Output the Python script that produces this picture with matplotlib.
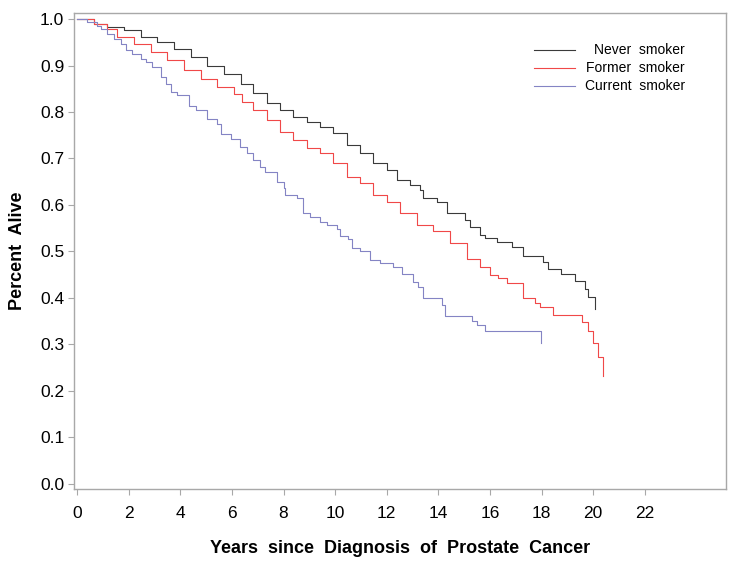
import numpy as np
import matplotlib
matplotlib.use('Agg')
import matplotlib.pyplot as plt

plt.rcParams['font.family'] = ['Liberation Sans', 'DejaVu Sans']

# Kaplan-Meier curves (years, survival)
never_t = [0, 0.66, 1.17, 1.82, 2.47, 3.11, 3.76, 4.41, 5.05, 5.70, 6.34, 6.83, 7.35,
           7.87, 8.38, 8.90, 9.42, 9.93, 10.45, 10.97, 11.48, 12.00, 12.39, 12.90,
           13.29, 13.42, 13.94, 14.33, 15.04, 15.23, 15.62, 15.81, 16.27, 16.85,
           17.28, 18.07, 18.27, 18.77, 19.28, 19.67, 19.80, 20.08]
never_s = [1.0, 0.990, 0.983, 0.976, 0.961, 0.950, 0.936, 0.918, 0.900, 0.882, 0.861,
           0.840, 0.819, 0.804, 0.790, 0.779, 0.768, 0.754, 0.729, 0.711, 0.690, 0.675,
           0.654, 0.643, 0.632, 0.614, 0.607, 0.582, 0.568, 0.553, 0.536, 0.528, 0.521,
           0.510, 0.490, 0.478, 0.462, 0.451, 0.437, 0.420, 0.402, 0.376]

former_t = [0, 0.66, 1.17, 1.56, 2.21, 2.86, 3.50, 4.15, 4.79, 5.44, 6.09, 6.41, 6.83,
            7.35, 7.87, 8.38, 8.90, 9.42, 9.93, 10.45, 10.97, 11.48, 12.00, 12.52,
            13.17, 13.81, 14.46, 15.10, 15.62, 16.00, 16.33, 16.65, 17.30, 17.75,
            17.95, 18.46, 19.58, 19.79, 19.99, 20.18, 20.38]
former_s = [1.0, 0.990, 0.979, 0.961, 0.947, 0.929, 0.911, 0.890, 0.872, 0.854, 0.839,
            0.821, 0.804, 0.783, 0.758, 0.740, 0.722, 0.711, 0.690, 0.661, 0.647, 0.622,
            0.607, 0.582, 0.557, 0.543, 0.518, 0.483, 0.466, 0.450, 0.442, 0.432, 0.399,
            0.389, 0.380, 0.363, 0.349, 0.329, 0.303, 0.274, 0.233]

current_t = [0, 0.40, 0.79, 0.92, 1.17, 1.43, 1.69, 1.89, 2.14, 2.47, 2.66, 2.92, 3.24,
             3.44, 3.63, 3.89, 4.34, 4.60, 5.05, 5.44, 5.57, 5.96, 6.32, 6.58, 6.83,
             7.09, 7.29, 7.74, 8.00, 8.06, 8.52, 8.77, 9.03, 9.42, 9.68, 10.07, 10.19,
             10.50, 10.65, 10.97, 11.36, 11.74, 12.26, 12.59, 13.03, 13.23, 13.40,
             14.14, 14.26, 15.30, 15.49, 15.81, 17.97]
current_s = [1.0, 0.994, 0.986, 0.979, 0.968, 0.958, 0.947, 0.933, 0.925, 0.915, 0.908,
             0.897, 0.875, 0.861, 0.843, 0.836, 0.814, 0.804, 0.786, 0.775, 0.753, 0.743,
             0.725, 0.711, 0.697, 0.682, 0.670, 0.650, 0.636, 0.622, 0.614, 0.582, 0.575,
             0.564, 0.557, 0.548, 0.533, 0.526, 0.507, 0.500, 0.482, 0.475, 0.467, 0.452,
             0.435, 0.423, 0.400, 0.385, 0.361, 0.351, 0.342, 0.329, 0.303]

labels = ['Never smoker', 'Former smoker', 'Current smoker']
colors = ['#3a3a3a', '#f04848', '#8484c4']
x_ticks = list(range(0, 23, 2))
y_ticks = [i / 10 for i in range(11)]

fig = plt.figure(figsize=(7.35, 5.66), dpi=100)
ax = fig.add_axes([74 / 735, 1 - 489 / 566, 652 / 735, 476 / 566])

series = [(never_t, never_s), (former_t, former_s), (current_t, current_s)]
for (t, s), c in zip(series, colors):
    ax.step(t, s, where='post', color=c, lw=0.8)

ax.set_xlim(-0.12, 25.15)
ax.set_ylim(-0.011, 1.013)
ax.set_xticks(x_ticks)
ax.set_yticks(y_ticks)
ax.set_yticklabels([f'{v:.1f}' for v in y_ticks])

for sp in ax.spines.values():
    sp.set_color('#a8a8a8')
    sp.set_linewidth(1.0)
ax.tick_params(axis='both', colors='#a8a8a8', labelcolor='black', length=4,
               width=0.8, labelsize=12.5)
ax.tick_params(axis='x', pad=8)
ax.tick_params(axis='y', pad=3)

ax.set_xlabel('Years  since  Diagnosis  of  Prostate  Cancer', fontsize=13,
              fontweight='bold', va='center')
ax.xaxis.set_label_coords(0.5, -0.126)
ax.set_ylabel('Percent  Alive', fontsize=13, fontweight='bold', va='center')
ax.yaxis.set_label_coords(-0.086, 0.5)

# legend drawn by hand so the labels are right aligned
leg_y = [0.922, 0.885, 0.847]
for lab, c, y in zip(labels, colors, leg_y):
    ax.plot([0.705, 0.768], [y, y], color=c, lw=0.8, transform=ax.transAxes)
    ax.text(0.937, y, lab.replace(' ', '  '), transform=ax.transAxes, ha='right',
            va='center', fontsize=10)

fig.savefig('out.png', dpi=100)
